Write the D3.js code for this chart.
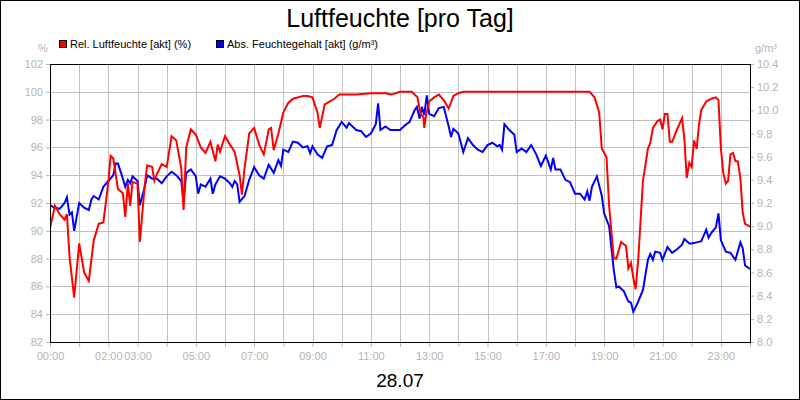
<!DOCTYPE html>
<html><head><meta charset="utf-8">
<script src="https://cdn.jsdelivr.net/npm/d3@7"></script>
<style>body{margin:0;background:#fff}svg{display:block;font-family:"Liberation Sans",Arial,sans-serif}</style>
</head><body><svg id="c" width="800" height="400"></svg>
<script>
const title = "Luftfeuchte [pro Tag]";
const dateLabel = "28.07";
const seriesNames = ["Rel. Luftfeuchte [akt] (%)", "Abs. Feuchtegehalt [akt] (g/m³)"];
const xTickHours = [0,2,3,5,7,9,11,13,15,17,19,21,23];
const leftTicks = [82,84,86,88,90,92,94,96,98,100,102];
const rightTicks = [8.0,8.2,8.4,8.6,8.8,9.0,9.2,9.4,9.6,9.8,10.0,10.2,10.4];

const redTimes = [0,0.17,0.33,0.5,0.58,0.67,0.83,1,1.17,1.33,1.5,1.67,1.83,2,2.08,2.17,2.33,2.5,2.58,2.67,2.75,2.83,3,3.08,3.25,3.33,3.5,3.58,3.67,3.83,4,4.17,4.33,4.5,4.58,4.67,4.83,5,5.17,5.33,5.5,5.67,5.75,5.83,6,6.17,6.33,6.5,6.58,6.67,6.83,7,7.17,7.33,7.5,7.58,7.67,7.83,8,8.17,8.33,8.5,8.67,8.83,9,9.17,9.25,9.42,9.58,9.75,9.92,10,10.5,11,11.5,11.7,12,12.4,12.6,12.7,12.8,12.83,12.9,13,13.17,13.33,13.5,13.67,13.83,14,14.17,18.5,18.67,18.83,18.92,19,19.08,19.17,19.33,19.42,19.58,19.75,19.83,19.92,20,20.08,20.17,20.33,20.5,20.58,20.67,20.83,20.92,21,21.08,21.17,21.25,21.33,21.5,21.67,21.75,21.83,21.92,22,22.08,22.17,22.25,22.33,22.5,22.67,22.83,22.92,23,23.08,23.17,23.25,23.33,23.42,23.5,23.58,23.67,23.75,23.83,24];
const redValues = [90.2,91.8,91.2,90.8,91.2,88.1,85.2,89.1,87,86.4,89.3,90.5,90.6,93.5,95.4,95.2,93,92.7,91,93.4,91.8,93.5,93.4,89.2,93.3,94.7,94.6,93.6,94.1,94.8,94.6,96.8,96.5,94.5,91.5,96,97.3,96.9,96,95.6,96.4,95,96.2,95.7,96.8,96.2,95.7,94,92.6,94.5,97,97.4,96.2,95.5,97.3,97.4,95.8,97,98.5,99.2,99.5,99.6,99.7,99.7,99.6,98.5,97.4,99.1,99.3,99.5,99.8,99.8,99.8,99.9,99.9,99.8,100,100,99.6,98.4,98.2,97.4,98.4,99.3,99.6,99.8,99.4,98.8,99.7,99.9,100,100,99.6,98.5,95.9,95.6,95.3,91.8,88,88,89.2,88.9,87.3,87.7,86.6,85.8,88,93.6,95.9,96.3,97.4,97.9,98,97.3,98.4,98.4,96.4,96.4,97.3,98.1,96.6,93.8,94.9,94.6,96.5,95.9,97.6,98.7,99.3,99.5,99.6,99.4,96,94.2,93.4,93.6,95.5,95.6,95,95,93.8,91.3,90.5,90.3];

const blueTimes = [0,0.17,0.33,0.5,0.58,0.67,0.75,0.83,1,1.17,1.33,1.42,1.5,1.67,1.83,2,2.17,2.25,2.33,2.5,2.58,2.67,2.75,2.83,3,3.08,3.25,3.33,3.5,3.67,3.83,4,4.17,4.33,4.5,4.58,4.67,4.83,5,5.08,5.17,5.33,5.5,5.58,5.67,5.83,6,6.17,6.25,6.33,6.42,6.5,6.67,6.83,7,7.17,7.33,7.5,7.67,7.83,7.92,8,8.17,8.33,8.5,8.67,8.83,8.92,9,9.17,9.33,9.5,9.67,9.83,10,10.17,10.25,10.5,10.67,10.83,11,11.17,11.25,11.33,11.5,11.67,12,12.17,12.33,12.5,12.58,12.67,12.75,12.83,12.92,13,13.17,13.33,13.5,13.67,13.75,13.83,14,14.17,14.33,14.5,14.67,14.83,15,15.17,15.33,15.42,15.5,15.58,15.75,15.92,16,16.17,16.33,16.5,16.67,16.83,17,17.17,17.25,17.33,17.5,17.67,17.83,18,18.17,18.33,18.42,18.5,18.58,18.75,18.92,19,19.17,19.33,19.42,19.5,19.67,19.83,19.92,20,20.17,20.33,20.5,20.58,20.67,20.75,20.92,21,21.17,21.33,21.5,21.67,21.75,21.92,22,22.17,22.33,22.5,22.58,22.67,22.83,22.92,23,23.17,23.33,23.5,23.67,23.75,23.83,24];
const blueValues = [9.18,9.16,9.15,9.2,9.25,9.1,9.12,8.96,9.2,9.16,9.14,9.23,9.26,9.23,9.34,9.39,9.44,9.54,9.54,9.41,9.34,9.4,9.37,9.43,9.39,9.18,9.34,9.44,9.41,9.41,9.37,9.43,9.47,9.44,9.39,9.21,9.46,9.49,9.43,9.28,9.36,9.34,9.41,9.28,9.36,9.43,9.41,9.37,9.34,9.39,9.36,9.21,9.26,9.4,9.51,9.44,9.41,9.53,9.46,9.57,9.52,9.66,9.64,9.73,9.72,9.68,9.69,9.63,9.69,9.62,9.59,9.69,9.7,9.83,9.9,9.85,9.89,9.83,9.82,9.77,9.8,9.88,10.06,9.83,9.86,9.83,9.83,9.87,9.9,10.0,10.03,9.93,10.03,9.96,10.13,9.97,9.95,10.02,10.03,9.86,9.77,9.84,9.8,9.64,9.76,9.7,9.66,9.64,9.7,9.72,9.69,9.7,9.66,9.88,9.83,9.79,9.64,9.67,9.64,9.7,9.62,9.52,9.61,9.49,9.59,9.49,9.49,9.4,9.38,9.28,9.28,9.23,9.3,9.22,9.34,9.43,9.26,9.11,9.0,8.62,8.47,8.48,8.44,8.35,8.34,8.26,8.35,8.45,8.71,8.76,8.71,8.78,8.77,8.71,8.82,8.77,8.8,8.84,8.89,8.85,8.85,8.86,8.87,8.97,8.9,8.94,8.99,9.11,8.88,8.78,8.77,8.71,8.86,8.81,8.66,8.63];

const svg = d3.select("#c");
const L=50,R=750,T=64,B=342;
const x = d3.scaleLinear().domain([0,24]).range([L,R]);
const yL = d3.scaleLinear().domain([82,102]).range([B,T]);
const yR = d3.scaleLinear().domain([8.0,10.4]).range([B,T]);
const grey="#b4b4b4";

svg.append("rect").attr("x",0.5).attr("y",0.5).attr("width",799).attr("height",399).attr("fill","#fff").attr("stroke","#000");
svg.append("text").attr("x",400).attr("y",27).attr("text-anchor","middle").attr("font-size",25).text(title);
svg.append("text").attr("x",400).attr("y",387).attr("text-anchor","middle").attr("font-size",19).text(dateLabel);

// legend
const leg=[{c:"#ff0000",t:seriesNames[0],x:59},{c:"#0000ff",t:seriesNames[1],x:216}];
leg.forEach(d=>{
  svg.append("rect").attr("x",d.x+0.5).attr("y",40.5).attr("width",7).attr("height",7).attr("fill",d.c).attr("stroke","#000");
  svg.append("text").attr("x",d.x+11).attr("y",48).attr("font-size",11).text(d.t);
});
svg.append("text").attr("x",43).attr("y",52).attr("text-anchor","middle").attr("font-size",11).attr("fill",grey).text("%");
svg.append("text").attr("x",766).attr("y",52).attr("text-anchor","middle").attr("font-size",11).attr("fill",grey).text("g/m³");

// grid
const g=svg.append("g");
g.selectAll(".v").data(d3.range(1,24)).join("line").attr("x1",d=>Math.round(x(d))+0.5).attr("x2",d=>Math.round(x(d))+0.5).attr("y1",T).attr("y2",B).attr("stroke","#c0c0c0");
g.selectAll(".h").data(leftTicks.slice(1,-1)).join("line").attr("x1",L).attr("x2",R).attr("y1",d=>Math.round(yL(d))+0.5).attr("y2",d=>Math.round(yL(d))+0.5).attr("stroke","#c0c0c0");

// axes
const ax=svg.append("g").attr("transform",`translate(0,${B})`).call(d3.axisBottom(x).tickValues(d3.range(0,25)).tickSize(5).tickFormat(d=>xTickHours.includes(d)?String(d).padStart(2,"0")+":00":""));
const ay=svg.append("g").attr("transform",`translate(${L},0)`).call(d3.axisLeft(yL).tickValues(leftTicks).tickSize(4).tickFormat(d3.format("d")));
const ar=svg.append("g").attr("transform",`translate(${R},0)`).call(d3.axisRight(yR).tickValues(rightTicks).tickSize(4).tickFormat(d3.format(".1f")));
[ax,ay,ar].forEach(a=>{a.select(".domain").remove();a.selectAll("line").attr("stroke",grey);a.selectAll("text").attr("fill",grey).attr("font-size",11).attr("font-family","Liberation Sans, Arial, sans-serif");});
ax.selectAll("text").attr("dy","0.9em");

// lines
const clip=svg.append("clipPath").attr("id","cp").append("rect").attr("x",L).attr("y",T).attr("width",R-L).attr("height",B-T);
const redData=redTimes.map((t,i)=>[t,redValues[i]]);
const blueData=blueTimes.map((t,i)=>[t,blueValues[i]]);
svg.append("path").attr("clip-path","url(#cp)").attr("d",d3.line().x(d=>x(d[0])).y(d=>yR(d[1]))(blueData)).attr("fill","none").attr("stroke","#0000ff").attr("stroke-width",2);
svg.append("path").attr("clip-path","url(#cp)").attr("d",d3.line().x(d=>x(d[0])).y(d=>yL(d[1]))(redData)).attr("fill","none").attr("stroke","#ff0000").attr("stroke-width",2);

svg.append("rect").attr("x",L+0.5).attr("y",T+0.5).attr("width",R-L).attr("height",B-T).attr("fill","none").attr("stroke","#000");
</script></body></html>
